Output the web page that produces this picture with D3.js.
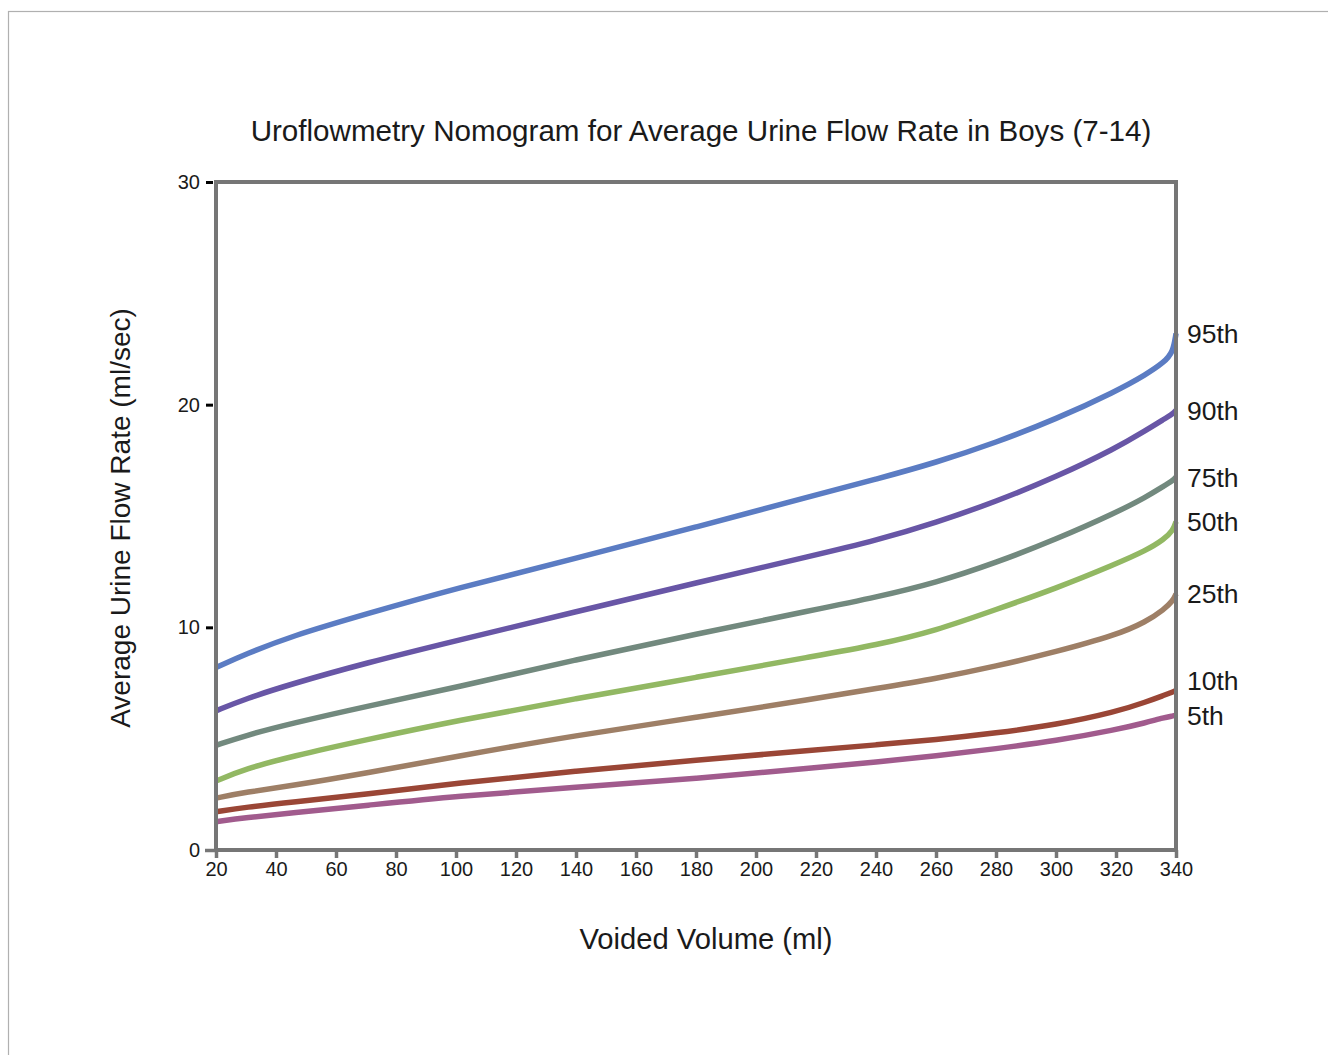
<!DOCTYPE html>
<html>
<head>
<meta charset="utf-8">
<script src="https://cdn.jsdelivr.net/npm/d3@7/dist/d3.min.js"></script>
<style>
  html, body { margin: 0; padding: 0; background: #fff; }
  svg { display: block; font-family: "Liberation Sans", Arial, Helvetica, sans-serif; }
</style>
</head>
<body>
<svg id="chart" width="1328" height="1055"></svg>
<script>
// ---- data ----
const volumes = [20, 30, 45, 70, 100, 140, 180, 220, 240, 260, 280, 300, 320, 330, 336, 339, 340];
const p95 = [8.2, 8.8, 9.6, 10.6, 11.75, 13.1, 14.5, 15.95, 16.65, 17.4, 18.3, 19.35, 20.6, 21.35, 21.9, 22.35, 23.2];
const p90 = [6.25, 6.8, 7.45, 8.4, 9.4, 10.7, 12.0, 13.25, 13.9, 14.7, 15.65, 16.75, 18.05, 18.85, 19.35, 19.6, 19.75];
const p75 = [4.7, 5.15, 5.68, 6.45, 7.3, 8.55, 9.7, 10.8, 11.35, 12.0, 12.9, 13.95, 15.15, 15.85, 16.35, 16.6, 16.75];
const p50 = [3.1, 3.65, 4.2, 4.95, 5.8, 6.8, 7.75, 8.72, 9.2, 9.85, 10.8, 11.75, 12.85, 13.45, 13.95, 14.35, 14.75];
const p25 = [2.33, 2.6, 2.88, 3.45, 4.2, 5.15, 5.95, 6.8, 7.25, 7.7, 8.25, 8.9, 9.65, 10.25, 10.8, 11.2, 11.5];
const p10 = [1.72, 1.92, 2.15, 2.5, 3.0, 3.55, 4.03, 4.5, 4.72, 4.95, 5.25, 5.62, 6.2, 6.65, 6.95, 7.1, 7.17];
const p5  = [1.27, 1.45, 1.66, 2.0, 2.42, 2.82, 3.2, 3.7, 3.95, 4.22, 4.55, 4.9, 5.4, 5.72, 5.95, 6.02, 6.05];
const seriesNames = ["95th", "90th", "75th", "50th", "25th", "10th", "5th"];
const seriesValues = [p95, p90, p75, p50, p25, p10, p5];
const seriesColors = ["#5b7cc3", "#6856a6", "#72897e", "#92b863", "#9e7f66", "#9a4636", "#a15b8d"];
const xTicks = [20, 40, 60, 80, 100, 120, 140, 160, 180, 200, 220, 240, 260, 280, 300, 320, 340];
const yTicks = [0, 10, 20, 30];
const titleText = "Uroflowmetry Nomogram for Average Urine Flow Rate in Boys (7-14)";
const xLabel = "Voided Volume (ml)";
const yLabel = "Average Urine Flow Rate (ml/sec)";

// ---- drawing ----
const svg = d3.select("#chart");
const x = d3.scaleLinear().domain([20, 340]).range([216, 1176]);
const y = d3.scaleLinear().domain([0, 30]).range([850, 182]);

// outer frame (thin light gray)
svg.append("rect")
  .attr("x", 8.5).attr("y", 11.5).attr("width", 1400).attr("height", 1100)
  .attr("fill", "none").attr("stroke", "#b0b0b0").attr("stroke-width", 1.2);

// title
svg.append("text")
  .attr("x", 701).attr("y", 141)
  .attr("text-anchor", "middle")
  .attr("font-size", 29.6).attr("fill", "#1a1a1a")
  .text(titleText);

// curves
const line = d3.line()
  .x(d => x(d[0]))
  .y(d => y(d[1]))
  .curve(d3.curveBasis);

seriesValues.forEach((vals, i) => {
  const pts = volumes.map((v, j) => [v, vals[j]]);
  svg.append("path")
    .attr("d", line(pts))
    .attr("fill", "none")
    .attr("stroke", seriesColors[i])
    .attr("stroke-width", 5.5)
    .attr("stroke-linecap", "butt");
});

// plot frame
const axisGray = "#767676";
svg.append("rect")
  .attr("x", x(20)).attr("y", y(30))
  .attr("width", x(340) - x(20)).attr("height", y(0) - y(30))
  .attr("fill", "none").attr("stroke", axisGray).attr("stroke-width", 4);

// x axis
const xAxis = d3.axisBottom(x).tickValues(xTicks).tickSize(8).tickPadding(4).tickFormat(d3.format("d"));
const gx = svg.append("g").attr("transform", `translate(0,${y(0)})`).call(xAxis);
gx.select(".domain").remove();
gx.selectAll(".tick line").attr("stroke", axisGray).attr("stroke-width", 3.5);
gx.selectAll(".tick text").attr("font-size", 20).attr("fill", "#1a1a1a")
  .attr("font-family", "'Liberation Sans', Arial, sans-serif");

// y axis
const yAxis = d3.axisLeft(y).tickValues(yTicks).tickSize(10).tickPadding(5).tickFormat(d3.format("d"));
const gy = svg.append("g").attr("transform", `translate(${x(20) - 1},0)`).call(yAxis);
gy.select(".domain").remove();
gy.selectAll(".tick line")
  .attr("stroke", d => d === 0 ? axisGray : "#000")
  .attr("stroke-width", d => d === 0 ? 3.5 : 3)
  .attr("x2", d => d === 0 ? -10 : -9)
  .attr("x1", d => d === 0 ? 0 : -2);
gy.selectAll(".tick text").attr("font-size", 20).attr("fill", "#1a1a1a")
  .attr("font-family", "'Liberation Sans', Arial, sans-serif");

// percentile labels at the right end; crowded labels are pushed upward
const labelY = seriesValues.map(v => y(v[v.length - 1]));
for (let i = labelY.length - 2; i >= 0; i--) {
  if (labelY[i + 1] - labelY[i] < 35) labelY[i] = labelY[i + 1] - 35;
}
seriesNames.forEach((name, i) => {
  svg.append("text")
    .attr("x", x(340) + 11)
    .attr("y", labelY[i])
    .attr("dy", "0.36em")
    .attr("font-size", 26.5)
    .attr("fill", "#1a1a1a")
    .text(name);
});

// axis titles
svg.append("text")
  .attr("x", 706).attr("y", 949)
  .attr("text-anchor", "middle")
  .attr("font-size", 29.2).attr("fill", "#1a1a1a")
  .text(xLabel);

svg.append("text")
  .attr("transform", "translate(130,518) rotate(-90)")
  .attr("text-anchor", "middle")
  .attr("font-size", 28).attr("fill", "#1a1a1a")
  .text(yLabel);
</script>
</body>
</html>
